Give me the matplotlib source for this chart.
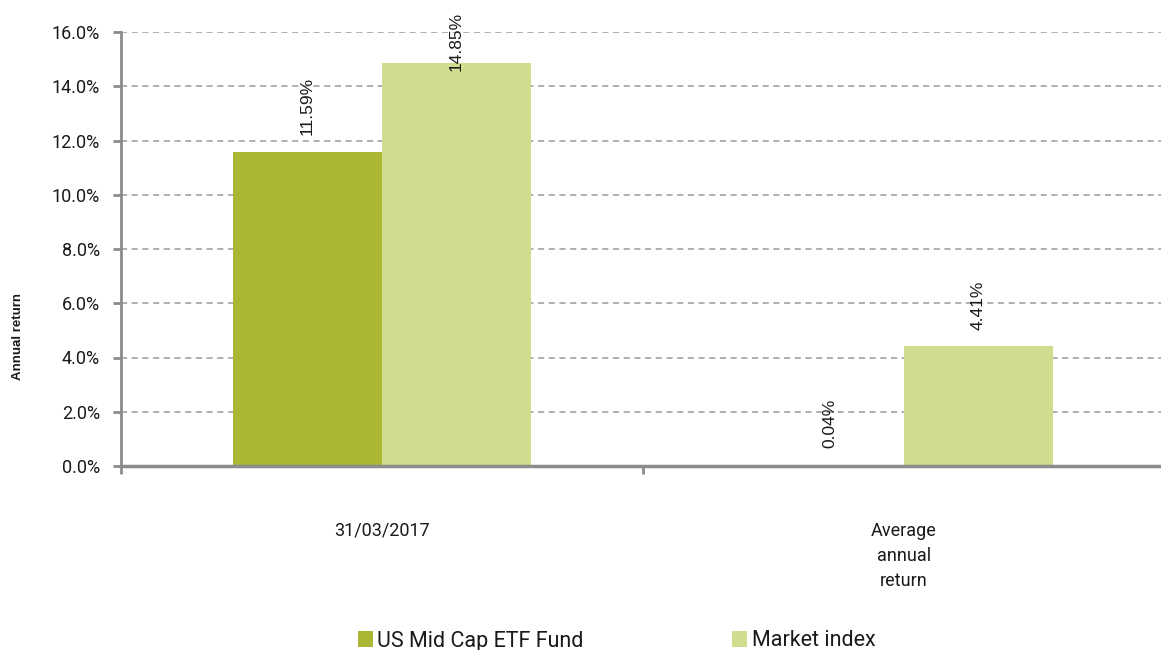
from matplotlib import pyplot as plt
import numpy as np

# Chart values.
categories = ["31/03/2017", "Average\nannual\nreturn"]
series_names = ["US Mid Cap ETF Fund", "Market index"]
fund_returns = [11.59, 0.04]
index_returns = [14.85, 4.41]
y_ticks = [0, 2, 4, 6, 8, 10, 12, 14, 16]

fund_color = "#abb734"
index_color = "#d0dc8e"
grid_color = "#9a9a9a"
axis_color = "#8c8c8c"
text_color = "#1a1a1a"

W, H = 1161, 650
fig = plt.figure(figsize=(W / 100, H / 100), dpi=100)
# axes in pixel terms: left 121, right ~1165, top 32, bottom 466
ax = fig.add_axes([121 / W, 1 - 466 / H, (1165 - 121) / W, (466 - 32) / H])

x = np.arange(len(categories))
width = 0.285
bars_fund = ax.bar(x - width / 2, fund_returns, width, color=fund_color,
                   label=series_names[0], zorder=3)
bars_index = ax.bar(x + width / 2, index_returns, width, color=index_color,
                    label=series_names[1], zorder=3)

ax.set_xlim(-0.5, 1.5)
ax.set_ylim(0, 16)
ax.set_yticks(y_ticks)
ax.set_yticklabels(["%.1f%%" % v for v in y_ticks], family="Roboto",
                   fontsize=13, color=text_color)
ax.tick_params(axis="y", length=6, width=2, color=axis_color, pad=9)

ax.set_xticks(x)
ax.set_xticklabels(categories, family="Roboto", fontsize=13, color=text_color,
                   linespacing=1.5)
ax.tick_params(axis="x", which="major", length=0, pad=40)
ax.set_xticks([-0.5, 0.5, 1.5], minor=True)
ax.tick_params(axis="x", which="minor", length=6, width=2, color=axis_color)

ax.yaxis.grid(True, linestyle=(0, (4, 3)), color=grid_color, linewidth=1.1, zorder=0)
ax.set_axisbelow(True)
for side in ["top", "right"]:
    ax.spines[side].set_visible(False)
ax.spines["left"].set_color(axis_color)
ax.spines["left"].set_linewidth(2)
ax.spines["bottom"].set_color(axis_color)
ax.spines["bottom"].set_linewidth(2.5)
ax.spines["bottom"].set_zorder(4)

fig.text(18 / W, 1 - 336 / H, "Annual return", rotation=90, ha="center", va="center",
         family="Liberation Sans", fontweight="bold", fontsize=9.5, color=text_color)

# Value labels, rotated, above each bar; pushed down if they would leave the figure.
labels = []
for bars in (bars_fund, bars_index):
    for b in bars:
        t = ax.annotate("%.2f%%" % b.get_height(),
                        (b.get_x() + b.get_width() / 2, b.get_height()),
                        xytext=(0, 12), textcoords="offset points",
                        rotation=90, ha="center", va="bottom",
                        family="Liberation Sans", fontsize=12.5, color=text_color,
                        zorder=5)
        labels.append(t)
fig.canvas.draw()
renderer = fig.canvas.get_renderer()
for t in labels:
    bb = t.get_window_extent(renderer)
    limit = H - 12
    if bb.y1 > limit:
        dx, dy = t.xyann
        t.xyann = (dx, dy - (bb.y1 - limit) * 72 / 100)

leg = fig.legend(handles=[bars_fund, bars_index], labels=series_names,
                 loc="center left", bbox_to_anchor=(358 / W, 1 - 641 / H),
                 ncol=2, frameon=False, borderpad=0, borderaxespad=0,
                 handlelength=0.7, handleheight=0.7, handletextpad=0.2,
                 columnspacing=6.9, prop={"family": "Roboto", "size": 15.5})
for txt in leg.get_texts():
    txt.set_color(text_color)

plt.savefig("out.png", dpi=100)
